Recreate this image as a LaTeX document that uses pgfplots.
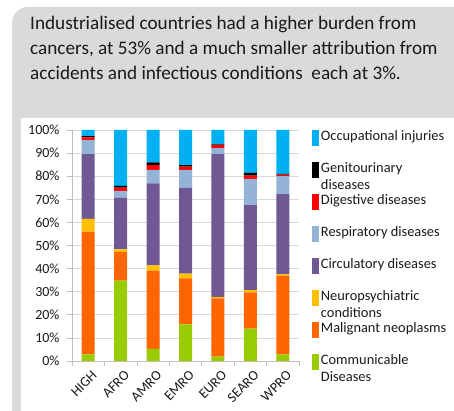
\documentclass[border=0pt]{standalone}
\usepackage{pgfplots}
\pgfplotsset{compat=1.18}
\usepackage{pgfplotstable}
\usepackage{fontspec}
\setmainfont{Carlito}

\definecolor{cComm}{HTML}{99CC00}
\definecolor{cMalig}{HTML}{FF6600}
\definecolor{cNeuro}{HTML}{FFC000}
\definecolor{cCirc}{HTML}{705894}
\definecolor{cResp}{HTML}{95B3D7}
\definecolor{cDig}{HTML}{FF0000}
\definecolor{cGen}{HTML}{000000}
\definecolor{cOcc}{HTML}{00B0F0}
\definecolor{panelgray}{HTML}{DADADA}
\definecolor{gridgray}{HTML}{D9D9D9}
\definecolor{axisgray}{HTML}{BFBFBF}
\definecolor{txt}{HTML}{1A1A1A}

\pgfplotstableread{
x comm malig neuro circ resp dig gen occ
0 2.9 53.1 5.5 28.0 6.2 1.1 0.6 2.6
1 34.8 12.4 1.1 22.4 2.9 1.4 0.8 24.2
2 5.2 33.9 2.3 35.5 5.8 2.1 1.2 14.0
3 15.9 19.9 2.0 37.2 7.7 1.4 0.7 15.2
4 1.9 25.2 0.6 61.9 2.5 1.3 0.4 6.2
5 14.0 15.7 1.0 36.8 11.3 1.4 1.2 18.6
6 2.9 33.9 0.7 34.7 7.8 0.7 0.3 19.0
}\data

\newcommand{\lgdone}[1]{\raisebox{0pt}[0pt][0pt]{#1}}
\newcommand{\lgdtwo}[2]{\raisebox{0pt}[0pt][0pt]{\vtop{\hbox{#1}\hbox{#2}}}}

\begin{document}
\begin{tikzpicture}[x=1pt,y=1pt]
\useasboundingbox (0,0) rectangle (454,411);
\begin{scope}
\clip (0,0) rectangle (454,411);
\fill[panelgray, rounded corners=16pt] (12,-40) rectangle (500,404);
\fill[white] (21,-40) rectangle (500,293);
\end{scope}
\begin{scope}[every node/.style={anchor=base west, inner sep=0pt, font=\fontsize{19.2}{25}\selectfont, text=txt}]
\node at (30,381) {Industrialised countries had a higher burden from};
\node at (30,356) {cancers, at 53\% and a much smaller attribution from};
\node at (30,331) {accidents and infectious conditions\ \ each at 3\%.};
\end{scope}
\begin{axis}[
  at={(72pt,50pt)}, anchor=south west,
  scale only axis, width=227pt, height=231pt,
  ybar stacked, bar width=13pt,
  xmin=-0.5, xmax=6.5, ymin=0, ymax=100,
  xtick={0,...,6}, xticklabels={HIGH,AFRO,AMRO,EMRO,EURO,SEARO,WPRO},
  minor xtick={-0.5,0.5,...,6.5},
  ytick={0,10,...,100},
  yticklabels={0\%,10\%,20\%,30\%,40\%,50\%,60\%,70\%,80\%,90\%,100\%},
  minor ytick={0,10,...,100},
  major tick length=0pt, minor tick length=5pt,
  tick align=outside,
  axis lines*=left,
  axis line style={axisgray, line width=0.7pt},
  tick style={axisgray, line width=0.7pt},
  ymajorgrids, grid style={gridgray, line width=0.7pt},
  tick label style={font=\fontsize{14}{16}\selectfont, text=txt},
  yticklabel style={xshift=-9pt},
  xticklabel style={xshift=3pt, yshift=-4pt, rotate=45, anchor=north east},
  legend cell align=left,
  reverse legend,
  legend image code/.code={\path (0pt,-4pt) rectangle (7pt,12pt); \fill[#1,draw=none] (0pt,2pt) rectangle (7pt,9pt);},
  legend style={at={(1.057,1.002)}, anchor=north west, draw=none, fill=none,
    row sep=16pt, inner sep=0pt, outer sep=0pt,
    font=\fontsize{14.4}{17}\selectfont, text=txt},
]
\addplot[fill=cComm, draw=none] table[x=x,y=comm]{\data};
\addlegendentry{\lgdtwo{Communicable}{Diseases}}
\addplot[fill=cMalig, draw=none] table[x=x,y=malig]{\data};
\addlegendentry{\lgdone{Malignant neoplasms}}
\addplot[fill=cNeuro, draw=none] table[x=x,y=neuro]{\data};
\addlegendentry{\lgdtwo{Neuropsychiatric}{conditions}}
\addplot[fill=cCirc, draw=none] table[x=x,y=circ]{\data};
\addlegendentry{\lgdone{Circulatory diseases}}
\addplot[fill=cResp, draw=none] table[x=x,y=resp]{\data};
\addlegendentry{\lgdone{Respiratory diseases}}
\addplot[fill=cDig, draw=none] table[x=x,y=dig]{\data};
\addlegendentry{\lgdone{Digestive diseases}}
\addplot[fill=cGen, draw=none] table[x=x,y=gen]{\data};
\addlegendentry{\lgdtwo{Genitourinary}{diseases}}
\addplot[fill=cOcc, draw=none] table[x=x,y=occ]{\data};
\addlegendentry{\lgdone{Occupational injuries}}
\end{axis}
\end{tikzpicture}
\end{document}
